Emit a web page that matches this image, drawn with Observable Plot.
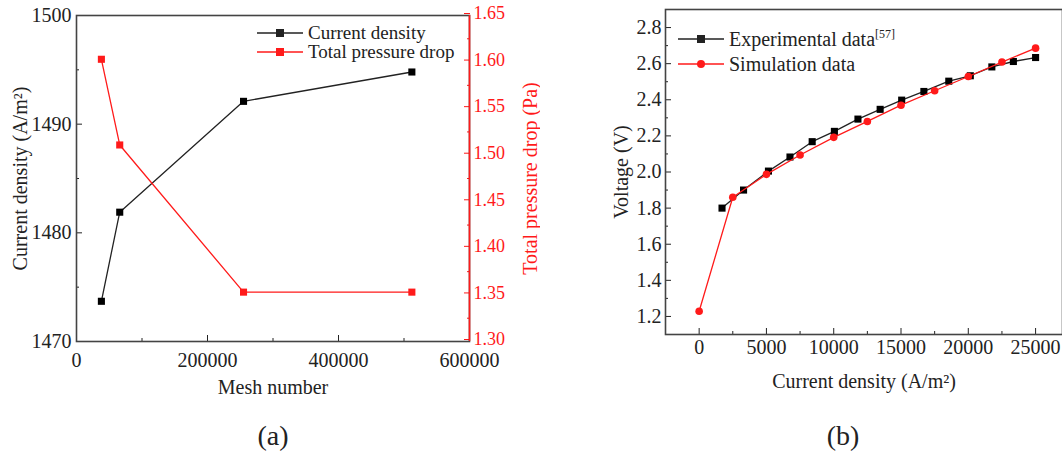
<!DOCTYPE html>
<html>
<head>
<meta charset="utf-8">
<script src="https://cdn.jsdelivr.net/npm/d3@7"></script>
<script src="https://cdn.jsdelivr.net/npm/@observablehq/plot@0.6"></script>
<style>
  html, body { margin: 0; padding: 0; background: #fff; }
  #root { position: relative; width: 1062px; height: 456px; font-family: "Liberation Serif", "Times New Roman", Times, "DejaVu Serif", serif; color: #222; overflow: hidden; }
  .panel { position: absolute; top: 0; }
  .cap { position: absolute; font-size: 28px; transform: translateX(-50%); line-height: 1; }
  .legend { position: absolute; font-size: 19px; line-height: 1; }
  .legend .row { display: flex; align-items: center; height: 19px; white-space: nowrap; }
  .legend svg { margin-right: 5px; }
  .legend sup { font-size: 12px; vertical-align: 8px; line-height: 0; }
</style>
</head>
<body>
<div id="root"></div>
<script>
// ---------- Panel (a) data ----------
const meshNumber = [38000, 66000, 255000, 512000];
const currentDensityA = [1473.7, 1481.9, 1492.1, 1494.8];
const pressureDrop = [1.603, 1.511, 1.353, 1.353];
const leftTicksA = [1470, 1480, 1490, 1500];
const leftMinorA = [1475, 1485, 1495];
const rightTicksA = [1.30, 1.35, 1.40, 1.45, 1.50, 1.55, 1.60, 1.65];
const rightMinorA = [1.325, 1.375, 1.425, 1.475, 1.525, 1.575, 1.625];
const xTicksA = [0, 200000, 400000, 600000];
const xMinorA = [100000, 300000, 500000];

// ---------- Panel (b) data ----------
const expCurrent = [1700, 3300, 5150, 6750, 8400, 10050, 11800, 13450, 15050, 16700, 18550, 20150, 21750, 23350, 25000];
const expVoltage = [1.800, 1.900, 2.005, 2.083, 2.168, 2.225, 2.293, 2.347, 2.398, 2.446, 2.503, 2.533, 2.582, 2.612, 2.634];
const simCurrent = [0, 2500, 5000, 7500, 10000, 12500, 15000, 17500, 20000, 22500, 25000];
const simVoltage = [1.229, 1.860, 1.987, 2.094, 2.192, 2.280, 2.370, 2.450, 2.529, 2.609, 2.686];
const yTicksB = [1.2, 1.4, 1.6, 1.8, 2.0, 2.2, 2.4, 2.6, 2.8];
const yMinorB = [1.3, 1.5, 1.7, 1.9, 2.1, 2.3, 2.5, 2.7];
const xTicksB = [0, 5000, 10000, 15000, 20000, 25000];
const xMinorB = [2500, 7500, 12500, 17500, 22500];

const RED = "#ff1a1a";
const INK = "#222";
const FRAME = "#444";
const FONT = "'Liberation Serif', 'Times New Roman', Times, 'DejaVu Serif', serif";
const root = document.getElementById("root");

// ---------- Panel (a) ----------
const leftDomain = [1470, 1500];
const rightDomain = [1.30, 1.65];
const toLeft = d3.scaleLinear().domain(rightDomain).range(leftDomain);

const curA = meshNumber.map((m, i) => ({x: m, y: currentDensityA[i]}));
const presA = meshNumber.map((m, i) => ({x: m, y: toLeft(pressureDrop[i])}));

const plotA = Plot.plot({
  width: 540, height: 400,
  marginLeft: 76, marginRight: 71, marginTop: 15, marginBottom: 59,
  style: {fontFamily: FONT, fontSize: "16px", color: INK, background: "white"},
  x: {domain: [0, 600000]},
  y: {domain: leftDomain},
  marks: [
    Plot.axisX({ticks: xTicksA, tickSize: -6, tickPadding: 17, tickFormat: d3.format("d"), stroke: INK, label: "Mesh number", labelAnchor: "center", labelOffset: 52, labelArrow: "none", fontSize: 20}),
    Plot.axisX({ticks: xMinorA, tickSize: -3, tickFormat: () => "", label: null, stroke: INK}),
    Plot.axisY({ticks: leftTicksA, tickSize: -6, tickPadding: 11, tickFormat: d3.format("d"), stroke: INK, label: "Current density (A/m²)", labelAnchor: "center", labelOffset: 64, labelArrow: "none", fontSize: 20}),
    Plot.axisY({ticks: leftMinorA, tickSize: -3, tickFormat: () => "", label: null, stroke: INK}),
    Plot.axisY({anchor: "right", ticks: rightTicksA.map(toLeft), tickFormat: d => toLeft.invert(d).toFixed(2), tickSize: -6, tickPadding: 10, dy: -2, fontSize: 18, stroke: RED, fill: RED, label: null}),
    Plot.axisY({anchor: "right", ticks: [], label: "Total pressure drop (Pa)", labelAnchor: "center", labelOffset: 67, labelArrow: "none", fontSize: 20, fill: RED, tickSize: 0}),
    Plot.axisY({anchor: "right", ticks: rightMinorA.map(toLeft), tickSize: -3, tickFormat: () => "", label: null, stroke: RED}),
    Plot.frame({stroke: FRAME, strokeWidth: 1.6}),
    Plot.ruleX([600000], {stroke: RED, strokeWidth: 1.6}),
    Plot.line(curA, {x: "x", y: "y", stroke: INK, strokeWidth: 1.3}),
    Plot.dot(curA, {x: "x", y: "y", symbol: "square", r: 4, fill: "black"}),
    Plot.line(presA, {x: "x", y: "y", stroke: RED, strokeWidth: 1.3}),
    Plot.dot(presA, {x: "x", y: "y", symbol: "square", r: 4, fill: RED})
  ]
});
const divA = document.createElement("div");
divA.className = "panel"; divA.style.left = "0px";
divA.appendChild(plotA);
root.appendChild(divA);

// ---------- Panel (b) ----------
const expB = expCurrent.map((c, i) => ({x: c, y: expVoltage[i]}));
const simB = simCurrent.map((c, i) => ({x: c, y: simVoltage[i]}));

const plotB = Plot.plot({
  width: 522, height: 400,
  marginLeft: 125, marginRight: 0, marginTop: 9, marginBottom: 66,
  style: {fontFamily: FONT, fontSize: "16px", color: INK, background: "white"},
  x: {domain: [-2500, 27000]},
  y: {domain: [1.1, 2.9]},
  marks: [
    Plot.axisX({ticks: xTicksB, tickSize: -6, tickPadding: 11, tickFormat: d3.format("d"), stroke: INK, label: "Current density (A/m²)", labelAnchor: "center", labelOffset: 53, labelArrow: "none", fontSize: 20}),
    Plot.axisX({ticks: xMinorB, tickSize: -3, tickFormat: () => "", label: null, stroke: INK}),
    Plot.axisY({ticks: yTicksB, tickSize: -6, tickPadding: 10, tickFormat: d3.format(".1f"), stroke: INK, label: "Voltage (V)", labelAnchor: "center", labelOffset: 52, labelArrow: "none", fontSize: 20}),
    Plot.axisY({ticks: yMinorB, tickSize: -3, tickFormat: () => "", label: null, stroke: INK}),
    Plot.frame({stroke: FRAME, strokeWidth: 1.6}),
    Plot.line(expB, {x: "x", y: "y", stroke: INK, strokeWidth: 1.3}),
    Plot.dot(expB, {x: "x", y: "y", symbol: "square", r: 4, fill: "black"}),
    Plot.line(simB, {x: "x", y: "y", stroke: RED, strokeWidth: 1.3}),
    Plot.dot(simB, {x: "x", y: "y", symbol: "circle", r: 3.8, fill: RED})
  ]
});
const divB = document.createElement("div");
divB.className = "panel"; divB.style.left = "540px";
divB.appendChild(plotB);
root.appendChild(divB);

// ---------- Legends (HTML) ----------
function swatch(color, shape) {
  const m = shape === "square"
    ? `<rect x="19" y="6" width="8" height="8" fill="${color}"/>`
    : `<circle cx="23" cy="10" r="4" fill="${color}"/>`;
  return `<svg width="46" height="20"><line x1="0" y1="10" x2="46" y2="10" stroke="${color}" stroke-width="1.5"/>${m}</svg>`;
}
const legA = document.createElement("div");
legA.className = "legend";
legA.style.left = "257px"; legA.style.top = "23px";
legA.innerHTML = `<div class="row">${swatch("#222", "square")}<span>Current density</span></div>` +
                 `<div class="row">${swatch(RED, "square")}<span>Total pressure drop</span></div>`;
root.appendChild(legA);

const legB = document.createElement("div");
legB.className = "legend";
legB.style.left = "678px"; legB.style.top = "26px";
legB.innerHTML = `<div class="row" style="height:25px">${swatch("#222", "square")}<span style="font-size:20px">Experimental data<sup>[57]</sup></span></div>` +
                 `<div class="row" style="height:25px">${swatch(RED, "circle")}<span style="font-size:20px">Simulation data</span></div>`;
root.appendChild(legB);

// ---------- Panel captions ----------
const capA = document.createElement("div");
capA.className = "cap"; capA.textContent = "(a)";
capA.style.left = "273px"; capA.style.top = "422px";
root.appendChild(capA);
const capB = document.createElement("div");
capB.className = "cap"; capB.textContent = "(b)";
capB.style.left = "843px"; capB.style.top = "422px";
root.appendChild(capB);
</script>
</body>
</html>
